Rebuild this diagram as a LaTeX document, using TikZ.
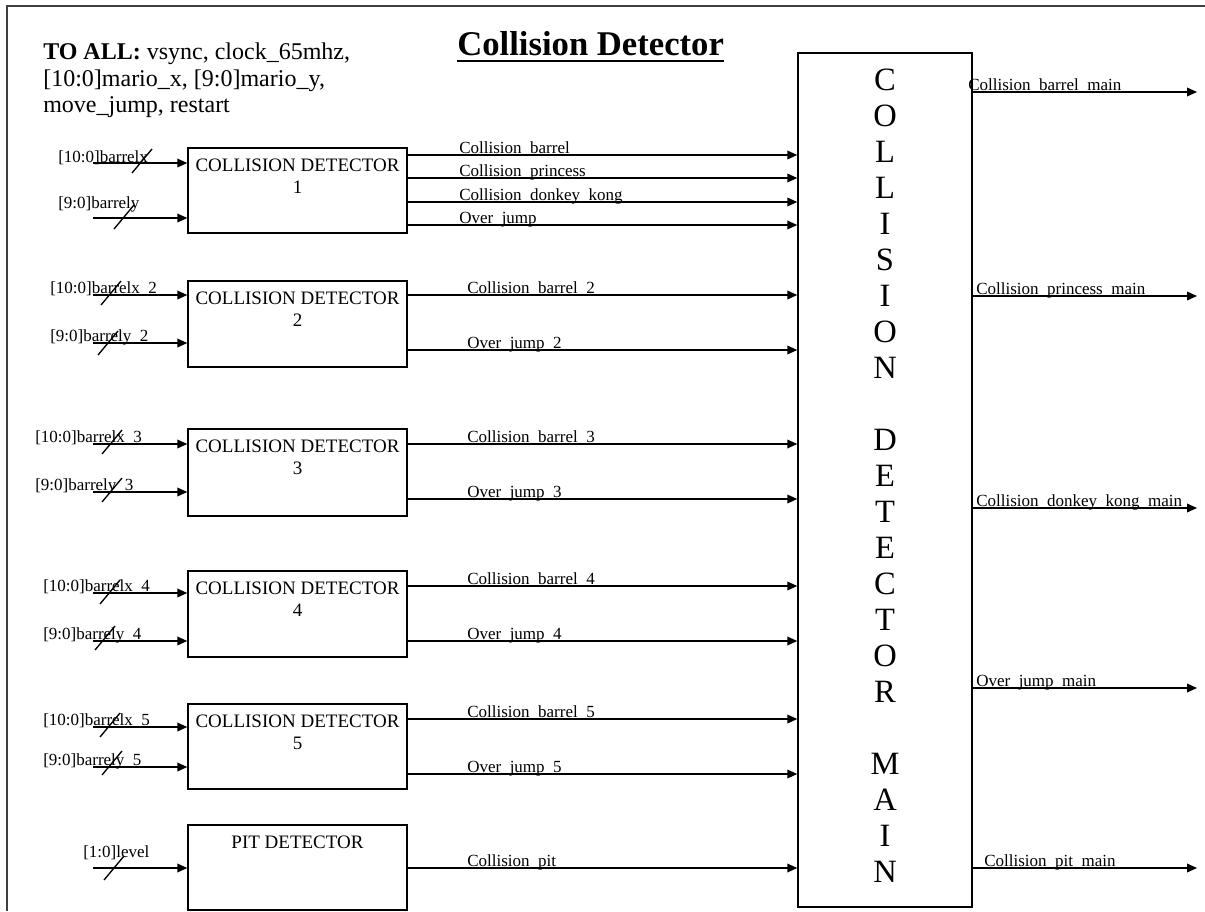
\documentclass[tikz,border=0pt]{standalone}
\usepackage{fontspec}
\setmainfont{Liberation Serif}
\usetikzlibrary{arrows.meta,calc}
\begin{document}
\begin{tikzpicture}[x=0.75pt,y=-0.75pt,
  sig/.style={line width=1.05pt, -{Triangle[length=7.5pt,width=6.5pt]}},
  box/.style={draw, line width=1.05pt, minimum width=219*0.75pt, inner sep=0pt},
  boxtext/.style={font=\fontsize{14.25}{16.9}\selectfont, align=center, anchor=north, inner sep=0pt},
  lab/.style={font=\fontsize{12.75}{15}\selectfont, anchor=base west, inner sep=0pt},
  big/.style={font=\fontsize{24.4}{27}\selectfont, anchor=base, inner sep=0pt},
  busslash/.pic={\draw[line width=1pt] (-10,12) -- (10,-12);}
]
\useasboundingbox (0,0) rectangle (1205,911);
\fill[white] (0,0) rectangle (1205,911);
% outer frame (clipped at right and bottom)
\draw[line width=1.3pt, black!75] (1205,6) -- (7,6) -- (7,911);

% title and global inputs
\node[font=\fontsize{26}{30}\selectfont\bfseries, anchor=base west, inner sep=0pt] (title) at (457,55) {Collision Detector};
\draw[line width=1.6pt] ($(title.base west)+(0,6)$) -- ($(title.base east)+(0,6)$);
\node[anchor=north west, inner sep=0pt, align=left, font=\fontsize{18}{19.9}\selectfont] (toall) at (43,42.6)
  {\textbf{TO ALL:} vsync, clock\_65mhz,\\{}[10:0]mario\_x, [9:0]mario\_y,\\{}move\_jump, restart};

% detector blocks
\node[box, minimum height=85*0.75pt] (cd1) at (297.5,190.5) {};
\node[box, minimum height=86*0.75pt] (cd2) at (297.5,324) {};
\node[box, minimum height=87*0.75pt] (cd3) at (297.5,472.5) {};
\node[box, minimum height=86*0.75pt] (cd4) at (297.5,614) {};
\node[box, minimum height=85*0.75pt] (cd5) at (297.5,746.5) {};
\node[box, minimum height=85*0.75pt] (pit) at (297.5,867.5) {};
\foreach \b/\k in {cd1/1,cd2/2,cd3/3,cd4/4,cd5/5}
  \node[boxtext] (\b t) at ($(\b.north)+(0,11)$) {COLLISION DETECTOR\\{}\k};
\node[boxtext] (pitt) at ($(pit.north)+(0,11)$) {PIT DETECTOR};

% main block
\node[draw, line width=1.05pt, minimum width=174*0.75pt, minimum height=854*0.75pt, inner sep=0pt] (main) at (885,480) {};
\foreach \l/\k in {C/0,O/1,L/2,L/3,I/4,S/5,I/6,O/7,N/8,D/10,E/11,T/12,E/13,C/14,T/15,O/16,R/17,M/19,A/20,I/21,N/22}
  \node[big] (ml\k) at (885,{90+36*\k}) {\l};

% inputs to detector blocks
\foreach \b/\y/\lx/\ly/\sx/\sy/\t/\n in {
  cd1/163/58/162/142/161/{[10:0]barrelx}/i1x,
  cd1/218/58/208/124/217/{[9:0]barrely}/i1y,
  cd2/295/50/293.5/111/293/{[10:0]barrelx\_2}/i2x,
  cd2/343/50/341.5/108/343/{[9:0]barrely\_2}/i2y,
  cd3/444/35/442.5/112/442/{[10:0]barrelx\_3}/i3x,
  cd3/492/35/490.5/112/490/{[9:0]barrely\_3}/i3y,
  cd4/593/43/591.5/110/592/{[10:0]barrelx\_4}/i4x,
  cd4/641/43/639.5/105/638/{[9:0]barrely\_4}/i4y,
  cd5/727/43/725.5/110/725/{[10:0]barrelx\_5}/i5x,
  cd5/767/43/765.5/112/763/{[9:0]barrely\_5}/i5y,
  pit/868/83/857/114/868/{[1:0]level}/ilv}
{
  \coordinate (\n s) at (93,\y);
  \draw[sig] (\n s) -- (\b.west |- \n s);
  \node[lab] (\n) at (\lx,\ly) {\t};
  \pic at (\sx,\sy) {busslash};
}

% detector outputs to main block
\foreach \b/\y/\lx/\t/\n in {
  cd1/155/459/{Collision\_barrel}/o1a,
  cd1/178/459/{Collision\_princess}/o1b,
  cd1/202/459/{Collision\_donkey\_kong}/o1c,
  cd1/225/459/{Over\_jump}/o1d,
  cd2/295/467/{Collision\_barrel\_2}/o2a,
  cd2/350/467/{Over\_jump\_2}/o2b,
  cd3/444/467/{Collision\_barrel\_3}/o3a,
  cd3/499/467/{Over\_jump\_3}/o3b,
  cd4/586/467/{Collision\_barrel\_4}/o4a,
  cd4/641/467/{Over\_jump\_4}/o4b,
  cd5/719/467/{Collision\_barrel\_5}/o5a,
  cd5/774/467/{Over\_jump\_5}/o5b,
  pit/868/467/{Collision\_pit}/opt}
{
  \coordinate (\n s) at (0,\y);
  \draw[sig] (\b.east |- \n s) -- (main.west |- \n s);
  \node[lab] (\n) at (\lx,{\y-1.5}) {\t};
}

% main outputs
\foreach \y/\lx/\t/\n in {
  92/968/{Collision\_barrel\_main}/m1,
  296/976/{Collision\_princess\_main}/m2,
  508/976/{Collision\_donkey\_kong\_main}/m3,
  688/976/{Over\_jump\_main}/m4,
  868/984/{Collision\_pit\_main}/m5}
{
  \coordinate (\n e) at (1197,\y);
  \draw[sig] (main.east |- \n e) -- (\n e);
  \node[lab] (\n) at (\lx,{\y-1.5}) {\t};
}
\end{tikzpicture}
\end{document}
